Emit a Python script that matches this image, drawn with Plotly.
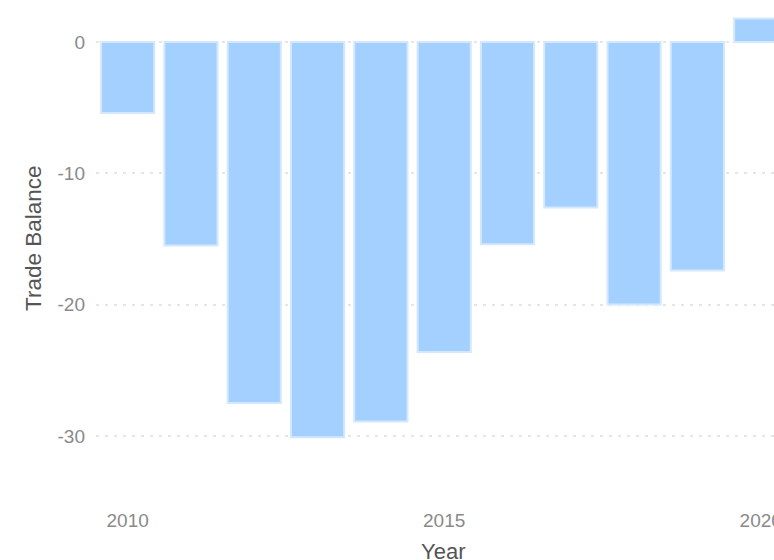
import plotly.graph_objects as go

years = [2010, 2011, 2012, 2013, 2014, 2015, 2016, 2017, 2018, 2019, 2020]
trade_balance = [-5.4, -15.5, -27.5, -30.1, -28.9, -23.6, -15.4, -12.6, -20.0, -17.4, 1.8]
x_ticks = [2010, 2015, 2020]
y_ticks = [0, -10, -20, -30]

fig = go.Figure(
    go.Bar(
        x=years,
        y=trade_balance,
        marker=dict(color="#a3d0fe", line=dict(color="#d3e8fd", width=2)),
    )
)

font_family = "Liberation Sans, Arial, sans-serif"

fig.update_layout(
    width=774,
    height=560,
    margin=dict(l=96, r=0, t=0, b=60),
    paper_bgcolor="white",
    plot_bgcolor="white",
    bargap=0.16,
    showlegend=False,
    font=dict(family=font_family, size=19, color="#8a8a8a"),
    annotations=[
        dict(
            text="Trade Balance", xref="paper", yref="paper",
            x=-0.093, y=0.524, textangle=-90, showarrow=False,
            xanchor="center", yanchor="middle",
            font=dict(family=font_family, size=22.5, color="#555555"),
        ),
        dict(
            text="Year", xref="paper", yref="paper",
            x=0.512, y=-0.102, showarrow=False,
            xanchor="center", yanchor="middle",
            font=dict(family=font_family, size=22, color="#555555"),
        ),
    ],
)

fig.update_xaxes(
    range=[2009.5, 2020.21],
    tickvals=x_ticks,
    ticktext=[str(v) for v in x_ticks],
    showgrid=False,
    zeroline=False,
    showline=False,
    ticks="",
    ticklabelstandoff=7,
    ticklabeloverflow="allow",
    automargin=False,
    tickfont=dict(size=19, color="#8a8a8a"),
)

fig.update_yaxes(
    range=[-34.88, 3.2],
    tickvals=y_ticks,
    ticktext=[str(v) for v in y_ticks],
    showgrid=True,
    gridcolor="#e6e6e6",
    gridwidth=2,
    griddash="3px,6px",
    zeroline=False,
    showline=False,
    ticks="",
    ticklabelstandoff=10,
    automargin=False,
    tickfont=dict(size=19, color="#8a8a8a"),
)

fig.write_html(
    "out.html",
    config={"displayModeBar": False},
    post_script="document.body.style.margin='0';document.body.style.overflow='hidden';",
)
